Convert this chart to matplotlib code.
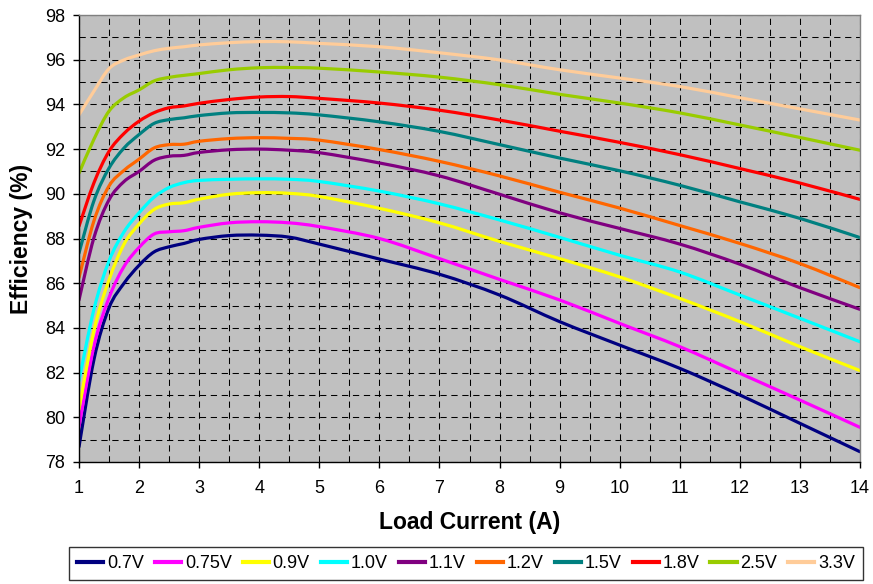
import matplotlib
matplotlib.use("Agg")
import matplotlib.pyplot as plt
from matplotlib.path import Path
from matplotlib.patches import PathPatch
from matplotlib.lines import Line2D
from matplotlib.ticker import MultipleLocator

plt.rcParams['font.family'] = ['Liberation Sans', 'DejaVu Sans']

# load current (A)
current = [1, 1.25, 1.5, 1.75, 2, 2.25, 2.5, 2.75, 3, 3.5, 4, 4.5, 5,
           6, 7, 8, 9, 10, 11, 12, 13, 14]

# efficiency (%) per output voltage
eff_0v7 = [78.68, 82.6, 84.9, 86.0, 86.8, 87.4, 87.63, 87.78, 87.96, 88.13, 88.15, 88.06, 87.75,
           87.08, 86.4, 85.47, 84.28, 83.23, 82.19, 81.0, 79.73, 78.46]
eff_0v75 = [79.58, 83.2, 85.35, 86.75, 87.6, 88.2, 88.3, 88.35, 88.5, 88.7, 88.75, 88.7, 88.53,
            88.0, 87.1, 86.17, 85.25, 84.2, 83.16, 81.97, 80.77, 79.55]
eff_0v9 = [80.37, 83.9, 86.15, 87.75, 88.65, 89.3, 89.54, 89.6, 89.76, 89.98, 90.05, 90.02, 89.88,
           89.35, 88.7, 87.87, 87.1, 86.28, 85.32, 84.28, 83.16, 82.09]
eff_1v0 = [81.64, 84.85, 87.0, 88.3, 89.15, 89.85, 90.28, 90.5, 90.6, 90.65, 90.67, 90.65, 90.55,
           90.12, 89.55, 88.83, 88.05, 87.25, 86.5, 85.47, 84.43, 83.38]
eff_1v1 = [85.25, 88.05, 89.73, 90.55, 91.0, 91.5, 91.68, 91.72, 91.85, 91.97, 92.0, 91.95, 91.84,
           91.38, 90.8, 89.98, 89.15, 88.45, 87.75, 86.85, 85.8, 84.83]
eff_1v2 = [86.25, 88.8, 90.35, 91.05, 91.55, 92.05, 92.2, 92.22, 92.35, 92.47, 92.51, 92.48, 92.4,
           91.98, 91.45, 90.8, 90.07, 89.36, 88.58, 87.78, 86.88, 85.8]
eff_1v5 = [87.35, 89.7, 91.15, 92.05, 92.65, 93.15, 93.32, 93.4, 93.5, 93.62, 93.64, 93.62, 93.53,
           93.22, 92.79, 92.2, 91.6, 91.03, 90.38, 89.64, 88.9, 88.04]
eff_1v8 = [88.55, 90.5, 91.9, 92.7, 93.25, 93.63, 93.85, 93.93, 94.05, 94.22, 94.33, 94.35, 94.27,
           94.06, 93.74, 93.3, 92.8, 92.3, 91.75, 91.13, 90.48, 89.75]
eff_2v5 = [90.92, 92.45, 93.7, 94.3, 94.65, 95.05, 95.21, 95.3, 95.38, 95.55, 95.64, 95.65, 95.62,
           95.45, 95.22, 94.88, 94.45, 94.06, 93.62, 93.08, 92.52, 91.95]
eff_3v3 = [93.53, 94.6, 95.6, 95.99, 96.21, 96.4, 96.51, 96.58, 96.66, 96.76, 96.81, 96.8, 96.73,
           96.58, 96.31, 95.99, 95.55, 95.18, 94.8, 94.3, 93.8, 93.3]

labels = ['0.7V', '0.75V', '0.9V', '1.0V', '1.1V', '1.2V', '1.5V', '1.8V', '2.5V', '3.3V']
series = [eff_0v7, eff_0v75, eff_0v9, eff_1v0, eff_1v1, eff_1v2, eff_1v5, eff_1v8, eff_2v5, eff_3v3]
colors = ['#000080', '#FF00FF', '#FFFF00', '#00FFFF', '#800080',
          '#FF6600', '#008080', '#FF0000', '#99CC00', '#FFCC99']


def smooth_path(xs, ys):
    # spreadsheet-style smoothed line: cubic Bezier through every data point
    pts = list(zip(xs, ys))
    n = len(pts)
    verts = [pts[0]]
    codes = [Path.MOVETO]
    for i in range(n - 1):
        p0 = pts[i - 1] if i > 0 else pts[i]
        p1 = pts[i]
        p2 = pts[i + 1]
        p3 = pts[i + 2] if i + 2 < n else pts[i + 1]
        c1 = (p1[0] + (p2[0] - p0[0]) / 6, p1[1] + (p2[1] - p0[1]) / 6)
        c2 = (p2[0] - (p3[0] - p1[0]) / 6, p2[1] - (p3[1] - p1[1]) / 6)
        verts += [c1, c2, p2]
        codes += [Path.CURVE4] * 3
    return Path(verts, codes)


fig = plt.figure(figsize=(8.73, 5.84), dpi=100)
ax = fig.add_axes([79 / 873, 1 - 462 / 584, 781 / 873, 447 / 584])
ax.set_facecolor('#C0C0C0')

handles = []
for y, lab, col in zip(series, labels, colors):
    ax.add_patch(PathPatch(smooth_path(current, y), fill=False, edgecolor=col,
                           lw=2.3, joinstyle='round', capstyle='round'))
    handles.append(Line2D([], [], color=col, lw=3, label=lab))

ax.set_xlim(1, 14)
ax.set_ylim(78, 98)
ax.xaxis.set_major_locator(MultipleLocator(1))
ax.xaxis.set_minor_locator(MultipleLocator(0.5))
ax.yaxis.set_major_locator(MultipleLocator(2))
ax.yaxis.set_minor_locator(MultipleLocator(1))
ax.set_axisbelow(True)
ax.grid(which='both', color='black', lw=0.75, linestyle=(0, (6, 4.5)))

ax.tick_params(which='major', direction='out', length=4, width=1, labelsize=13, color='black')
ax.tick_params(axis='x', pad=9)
ax.tick_params(axis='y', pad=6)
ax.tick_params(which='minor', length=0)

for side in ['left', 'bottom']:
    ax.spines[side].set_color('black')
    ax.spines[side].set_linewidth(1)
for side in ['top', 'right']:
    ax.spines[side].set_color('#808080')
    ax.spines[side].set_linewidth(1)

ax.set_xlabel('Load Current (A)', fontsize=16.5, fontweight='bold')
ax.set_ylabel('Efficiency (%)', fontsize=16.5, fontweight='bold')
ax.xaxis.set_label_coords(0.5, -0.11)
ax.yaxis.set_label_coords(-0.059, 0.5)

leg = fig.legend(handles=handles, loc='upper left', bbox_to_anchor=(69 / 873, 1 - 547 / 584),
                 ncol=10, fontsize=13, frameon=True, fancybox=False, handlelength=1.45,
                 handletextpad=0.2, columnspacing=0.62, borderpad=0.45, borderaxespad=0)
leg.get_frame().set_edgecolor('black')
leg.get_frame().set_linewidth(1)

fig.savefig('out.png', dpi=100)
